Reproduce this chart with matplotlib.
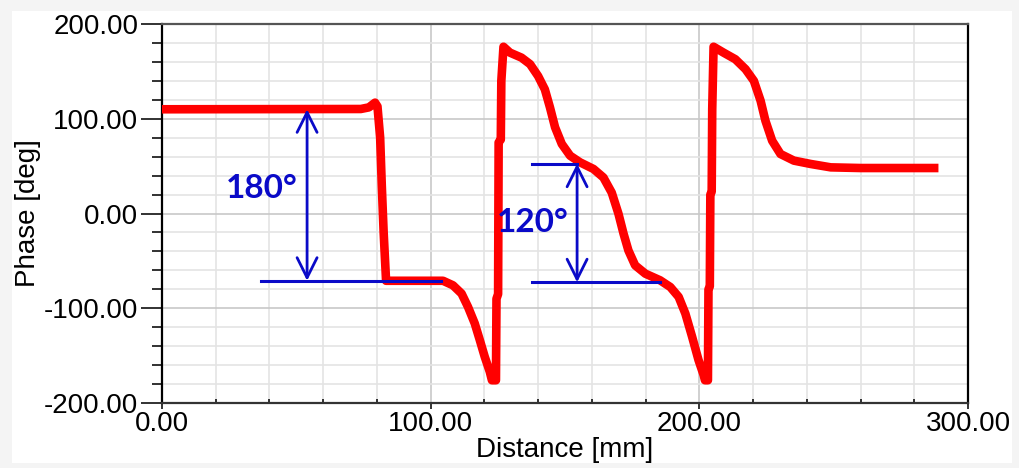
import matplotlib.pyplot as plt
from matplotlib.patches import Rectangle
from matplotlib.ticker import MultipleLocator

plt.rcParams['axes.unicode_minus'] = False

# phase curve: distance [mm] vs phase [deg]
distance = [0, 74, 77, 79.3, 80.2, 81.2, 81.8, 82.5, 83.4, 90, 100, 104.6,
            108.3, 111.5, 113.9, 116.4, 118.3, 120.1, 122, 122.8, 124.3,
            124.5, 125.1, 125.3, 126.1, 126.3, 127.1, 129.5, 133.8, 137, 140,
            142.5, 144.4, 146.3, 148.8, 151.9, 155.6, 160.6, 164.3, 167.4,
            169.9, 171.8, 173.6, 176.1, 179.9, 185.4, 189.2, 192.3, 194.8,
            197.3, 199.7, 201.6, 202.1, 203.2, 203.4, 203.9, 204.1, 204.6,
            204.8, 205.3, 209, 213.4, 217.2, 220.3, 222.8, 224.6, 227.1, 230.2,
            235.2, 241.4, 248.9, 260, 289]
phase = [110, 110.3, 112, 117, 113, 80, 30, -20, -71, -71, -71, -71,
         -75.8, -84.5, -98.6, -116, -133.7, -151, -167, -176, -176,
         -90, -85, 75, 78, 140, 176, 169.8, 164.5, 157.6, 145,
         131, 112, 91, 73.4, 61, 54, 47, 38, 22,
         -0.3, -21.4, -39, -54.7, -63.5, -70.5, -77.6, -88, -105.6,
         -130, -154.7, -170.5, -176, -176, -80, -77, 20, 23,
         110, 176, 169.8, 162.8, 152.3, 140, 119, 97.9, 76.8, 62.8,
         55.8, 52.3, 48.7, 48, 48]

# annotations: (x, y_top, y_bottom, label, label position)
ann1 = (54, 110, -71, '180°', (37, 26))
ann2 = (154.5, 52.6, -72.6, '120°', (138, -9.5))
ref_lines = [((37, 104), -71), ((137.7, 154.5), 52.6), ((137.7, 185.4), -72.6)]

blue = '#0a0ac8'

fig = plt.figure(figsize=(10.19, 4.68), dpi=100, facecolor='#f4f4f4')
fig.patches.append(Rectangle((12 / 1019, 5 / 468), 1000 / 1019, 452 / 468,
                             transform=fig.transFigure, facecolor='white',
                             edgecolor='none', zorder=-1))
ax = fig.add_axes([162 / 1019, 65 / 468, 806 / 1019, 379 / 468])

ax.plot(distance, phase, color='#ff0000', lw=6.2, solid_capstyle='butt',
        solid_joinstyle='round', zorder=3)

for (x0, x1), y in ref_lines:
    ax.plot([x0, x1], [y, y], color=blue, lw=2.2, zorder=4)

for x, ytop, ybot, label, pos in (ann1, ann2):
    ax.annotate('', xy=(x, ytop), xytext=(x, ybot),
                arrowprops=dict(arrowstyle='<->,head_length=0.72,head_width=0.36',
                                color=blue, lw=2.0, shrinkA=0, shrinkB=0,
                                mutation_scale=20), zorder=4)
    ax.text(pos[0], pos[1], label, color=blue, fontsize=24, family='Lato',
            fontweight='bold', ha='center', va='center', zorder=5)

ax.set_xlim(0, 300)
ax.set_ylim(-200, 200)
ax.xaxis.set_major_locator(MultipleLocator(100))
ax.xaxis.set_minor_locator(MultipleLocator(20))
ax.yaxis.set_major_locator(MultipleLocator(100))
ax.yaxis.set_minor_locator(MultipleLocator(20))
ax.xaxis.set_major_formatter('{x:.2f}')
ax.yaxis.set_major_formatter('{x:.2f}')

ax.grid(which='major', color='#c8c8c8', lw=1.2)
ax.grid(which='minor', color='#e4e4e4', lw=1.2)
ax.set_axisbelow(True)

for side in ax.spines:
    ax.spines[side].set_linewidth(1.6)
ax.spines['top'].set_color('#555555')
ax.spines['bottom'].set_color('#333333')

ax.tick_params(axis='y', which='major', length=15, width=1.3, pad=2,
               labelsize=20, labelfontfamily='Liberation Sans', color='#222222')
ax.tick_params(axis='y', which='minor', length=7, width=1.3, color='#222222')
ax.tick_params(axis='x', which='major', length=4, width=1.3, pad=2,
               labelsize=20, labelfontfamily='Liberation Sans', color='#222222')
ax.tick_params(axis='x', which='minor', direction='in', length=3, width=1.3,
               color='#222222')

ax.set_xlabel('Distance [mm]', fontsize=20, family='Liberation Sans', labelpad=0)
ax.set_ylabel('Phase [deg]', fontsize=20, family='Liberation Sans', labelpad=2)

fig.savefig('out.png', dpi=100, facecolor=fig.get_facecolor())
